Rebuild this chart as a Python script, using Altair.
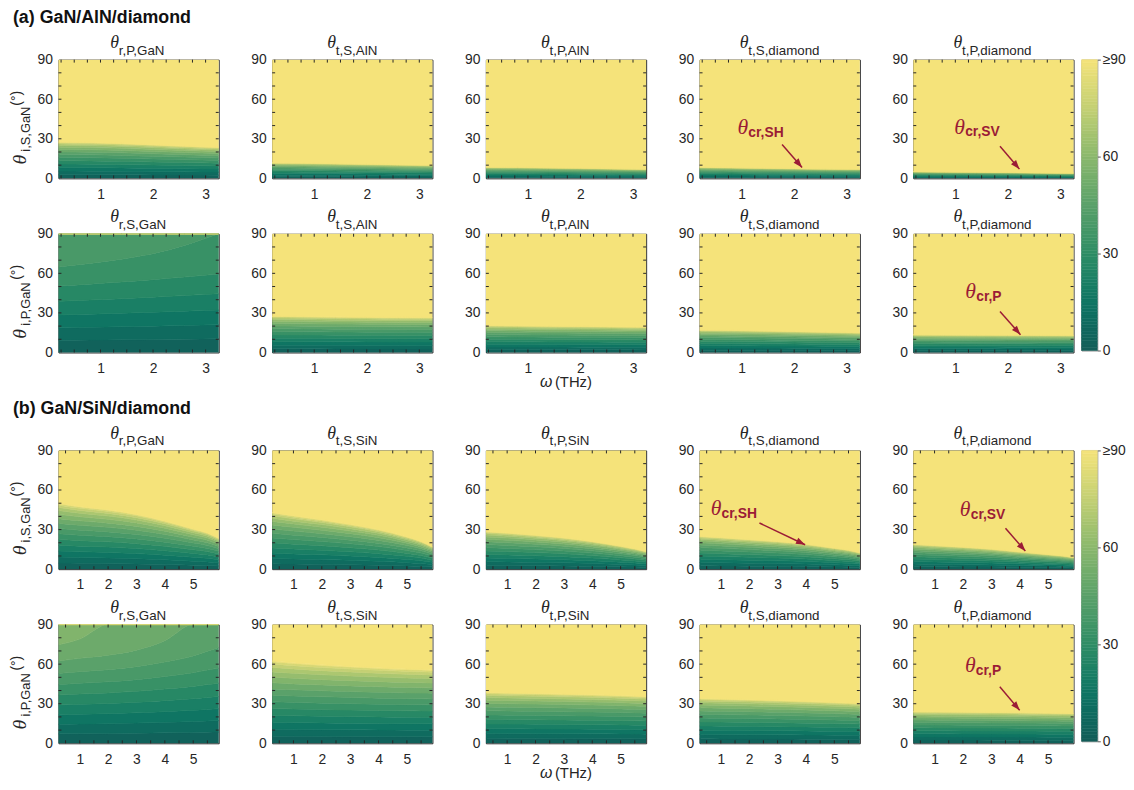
import math
import pandas as pd
import altair as alt

# ---------------- data ----------------
OMEGA_A = [0.2, 0.8, 1.4, 2.0, 2.6, 3.25]                 # THz, GaN/AlN/diamond
OMEGA_B = [0.25, 1.0, 2.0, 3.0, 4.0, 5.0, 5.5, 5.9]       # THz, GaN/SiN/diamond
XDOM_A = [0.2, 3.25]
XDOM_B = [0.25, 5.9]
XTICKS_A = [1, 2, 3]
XTICKS_B = [1, 2, 3, 4, 5]
XMINOR_A = [0.25, 0.5, 0.75, 1.0, 1.25, 1.5, 1.75, 2.0, 2.25, 2.5, 2.75, 3.0]
XMINOR_B = [0.5, 1.0, 1.5, 2.0, 2.5, 3.0, 3.5, 4.0, 4.5, 5.0, 5.5]
YTICKS = [0, 30, 60, 90]
YMINOR = [10, 20, 30, 40, 50, 60, 70, 80]
LEVELS = [0, 6, 12, 18, 24, 30, 36, 42, 48, 54, 60, 66, 72, 78, 84]   # contour levels (deg)

# critical incidence angle (deg): angle field below it, >=90 (yellow) above it
A_S_R_P_GAN = [27.5, 27.2, 26.5, 25.5, 24.5, 23.5]
A_S_T_S_ALN = [11.8, 11.6, 11.2, 10.8, 10.4, 10.0]
A_S_T_P_ALN = [8.5, 8.4, 8.1, 7.8, 7.4, 7.0]
A_S_T_S_DIA = [8.5, 8.2, 7.8, 7.5, 7.2, 7.0]
A_S_T_P_DIA = [5.2, 5.0, 4.8, 4.6, 4.3, 4.0]
# reflected-S angle reached at grazing incidence (deg)
A_P_R_S_GAN_MAX = [40.5, 39.5, 38.5, 37.5, 36.5, 35.5]
A_P_T_S_ALN = [27.5, 27.3, 27.0, 26.8, 26.6, 26.5]
A_P_T_P_ALN = [20.5, 20.3, 20.0, 19.8, 19.6, 19.3]
A_P_T_S_DIA = [17.0, 16.8, 16.4, 16.0, 15.5, 15.0]
A_P_T_P_DIA = [13.5, 13.4, 13.3, 13.2, 13.1, 13.0]

B_S_R_P_GAN = [50.0, 47.5, 45.0, 41.5, 36.5, 30.5, 27.5, 23.5]
B_S_T_S_SIN = [43.0, 40.5, 37.5, 34.0, 30.0, 24.5, 21.0, 17.0]
B_S_T_P_SIN = [28.5, 27.5, 25.8, 23.8, 21.0, 17.5, 15.5, 13.5]
B_S_T_S_DIA = [25.0, 24.0, 22.5, 21.0, 19.0, 16.0, 14.5, 12.5]
B_S_T_P_DIA = [19.0, 18.0, 16.8, 15.3, 13.2, 11.2, 10.2, 9.0]
B_P_R_S_GAN_MAX = [57.0, 55.5, 54.0, 52.0, 49.5, 47.0, 45.5, 44.5]
B_P_T_S_SIN = [62.5, 61.0, 59.5, 58.3, 57.2, 56.3, 56.0, 55.7]
B_P_T_P_SIN = [38.5, 38.2, 37.8, 37.3, 36.8, 36.2, 35.8, 35.5]
B_P_T_S_DIA = [34.0, 33.6, 33.1, 32.5, 31.8, 31.0, 30.6, 30.2]
B_P_T_P_DIA = [24.0, 23.9, 23.7, 23.5, 23.3, 23.0, 22.8, 22.6]

# annotations: subscript, text anchor (omega, deg), arrow start, arrow end
ANNOTATIONS = {
    ("a", 0, 3): ("cr,SH", (0.92, 33.5), (1.77, 25.7), (2.15, 8.3)),
    ("a", 0, 4): ("cr,SV", (0.98, 34.0), (1.85, 24.3), (2.22, 7.0)),
    ("a", 1, 4): ("cr,P", (1.19, 41.0), (1.85, 31.0), (2.24, 13.5)),
    ("b", 0, 3): ("cr,SH", (0.64, 41.0), (2.36, 35.0), (3.97, 18.5)),
    ("b", 0, 4): ("cr,SV", (1.89, 40.0), (3.50, 31.0), (4.20, 13.7)),
    ("b", 1, 4): ("cr,P", (2.07, 54.0), (3.30, 42.8), (4.00, 25.0)),
}

SECTIONS = [
    dict(key="a", title="(a) GaN/AlN/diamond", omega=OMEGA_A, xdom=XDOM_A, xticks=XTICKS_A,
         xminor=XMINOR_A,
         rows=[("i,S,GaN", [("r,P,GaN", "t", A_S_R_P_GAN), ("t,S,AlN", "t", A_S_T_S_ALN),
                            ("t,P,AlN", "t", A_S_T_P_ALN), ("t,S,diamond", "t", A_S_T_S_DIA),
                            ("t,P,diamond", "t", A_S_T_P_DIA)]),
               ("i,P,GaN", [("r,S,GaN", "r", A_P_R_S_GAN_MAX), ("t,S,AlN", "t", A_P_T_S_ALN),
                            ("t,P,AlN", "t", A_P_T_P_ALN), ("t,S,diamond", "t", A_P_T_S_DIA),
                            ("t,P,diamond", "t", A_P_T_P_DIA)])]),
    dict(key="b", title="(b) GaN/SiN/diamond", omega=OMEGA_B, xdom=XDOM_B, xticks=XTICKS_B,
         xminor=XMINOR_B,
         rows=[("i,S,GaN", [("r,P,GaN", "t", B_S_R_P_GAN), ("t,S,SiN", "t", B_S_T_S_SIN),
                            ("t,P,SiN", "t", B_S_T_P_SIN), ("t,S,diamond", "t", B_S_T_S_DIA),
                            ("t,P,diamond", "t", B_S_T_P_DIA)]),
               ("i,P,GaN", [("r,S,GaN", "r", B_P_R_S_GAN_MAX), ("t,S,SiN", "t", B_P_T_S_SIN),
                            ("t,P,SiN", "t", B_P_T_P_SIN), ("t,S,diamond", "t", B_P_T_S_DIA),
                            ("t,P,diamond", "t", B_P_T_P_DIA)])]),
]

COLOR_DOMAIN = [0, 15, 30, 45, 60, 75, 90]
COLOR_RANGE = ["#135d58", "#0f7563", "#2e8d65", "#5aa16a", "#8bb86d", "#c4d074", "#f5e37a"]

# ---------------- styling / layout ----------------
W, H = 162, 120
CBW, CBH = 16, 294
GAP_X = 22          # between panel bounds (plot gap 52 minus 30 px left guide)
GAP_Y = 0
SEC_GAP = 6
CB_GAP = 6
TOP1, BOT1 = -51, H + 26     # bounds of first row of a section
TOP2, BOT2 = -28, H + 40     # bounds of second row
LEFT_OTHER, LEFT_FIRST = -30, -52
SANS, SERIF = "Liberation Sans", "Liberation Serif"
TXT = "#262626"
RED = "#9b1c36"
CSCALE = alt.Scale(domain=COLOR_DOMAIN, range=COLOR_RANGE)
TITLE_THETA, TITLE_SUB = 18, 13.5
TICKLEN = 3

ARIAL = {'r': 333, ',': 278, 'P': 667, 'G': 778, 'a': 556, 'N': 722, 'S': 667, 'A': 667,
         'l': 222, 'i': 222, 't': 278, 'd': 556, 'm': 833, 'o': 556, 'n': 556, 'c': 500,
         'H': 722, 'V': 667, ' ': 278, '(': 333, ')': 333, '°': 400, 'T': 611, 'z': 500}


def tw(s, size):
    return sum(ARIAL.get(ch, 556) for ch in s) / 1000.0 * size


def d2r(d):
    return d * math.pi / 180.0


def bands(omega, vals, kind):
    rows = []
    for w, c in zip(omega, vals):
        if kind == "t":
            s = math.sin(d2r(c))
            edges = [math.degrees(math.asin(math.sin(d2r(L)) * s)) for L in LEVELS] + [c]
            for k, L in enumerate(LEVELS):
                rows.append(dict(w=w, lo=edges[k], hi=edges[k + 1], v=L + 3, band=k))
            rows.append(dict(w=w, lo=c, hi=90.0, v=90.0, band=len(LEVELS)))
        else:
            kk = math.sin(d2r(c))
            edges = [math.degrees(math.asin(min(1.0, math.sin(d2r(L)) / kk))) for L in LEVELS] + [90.0]
            for k, L in enumerate(LEVELS):
                rows.append(dict(w=w, lo=edges[k], hi=edges[k + 1], v=L + 3, band=k))
    return pd.DataFrame(rows).sort_values(["band", "w"])


def text(txt, x, y, size, font=SANS, style="normal", weight="normal", color=TXT, angle=None):
    kw = dict(align="left", baseline="alphabetic", font=font, fontSize=size,
              fontStyle=style, fontWeight=weight, color=color)
    if angle is not None:
        kw["angle"] = angle
    return alt.Chart(pd.DataFrame({"t": [txt]})).mark_text(**kw).encode(
        x=alt.value(x), y=alt.value(y), text="t:N")


def guide(x, y1, y2):
    # invisible vertical rule that fixes the layout bounds of a cell
    return alt.Chart(pd.DataFrame({"g": [0]})).mark_rule(opacity=0, strokeWidth=0.01).encode(
        x=alt.value(x), y=alt.value(y1), y2=alt.value(y2))


def panel(sec, ri, ci, ylab, sub, kind, vals):
    df = bands(sec["omega"], vals, kind)
    xs = alt.Scale(domain=sec["xdom"], nice=False, zero=False)
    ys = alt.Scale(domain=[0, 90], nice=False, zero=False)
    xax = alt.Axis(values=sec["xticks"], title=None, format="d", labelPadding=9)
    yax = alt.Axis(values=YTICKS, title=None, labelPadding=6)
    X = alt.X("w:Q", scale=xs, axis=xax)
    Y = alt.Y("lo:Q", scale=ys, axis=yax)
    base = alt.Chart(df).mark_area(interpolate="monotone", clip=True, strokeWidth=0.6).encode(
        x=X, y=Y, y2="hi:Q",
        color=alt.Color("v:Q", scale=CSCALE, legend=None),
        stroke=alt.Stroke("v:Q", scale=CSCALE, legend=None),
        detail="band:N",
    )
    layers = [base]
    # inward minor ticks on the frame (MATLAB style)
    xm = pd.DataFrame({"w": sec["xminor"]})
    ym = pd.DataFrame({"lo": YMINOR})
    tick = dict(color=TXT, strokeWidth=1)
    layers.append(alt.Chart(xm).mark_rule(**tick).encode(x=X, y=alt.value(0), y2=alt.value(TICKLEN)))
    layers.append(alt.Chart(xm).mark_rule(**tick).encode(x=X, y=alt.value(H - TICKLEN), y2=alt.value(H)))
    layers.append(alt.Chart(ym).mark_rule(**tick).encode(y=Y, x=alt.value(0), x2=alt.value(TICKLEN)))
    layers.append(alt.Chart(ym).mark_rule(**tick).encode(y=Y, x=alt.value(W - TICKLEN), x2=alt.value(W)))

    top, bot = (TOP1, BOT1) if ri == 0 else (TOP2, BOT2)
    layers.append(guide(LEFT_FIRST if ci == 0 else LEFT_OTHER, top, bot))
    # panel title  theta_{sub}
    tht = 8.6
    x0 = W / 2 - (tht + tw(sub, TITLE_SUB)) / 2
    layers.append(text("θ", x0, -12, TITLE_THETA, font=SERIF, style="italic"))
    layers.append(text(sub, x0 + tht, -5, TITLE_SUB))
    if ci == 0:
        y0 = 106
        ys0 = y0 - 13
        layers.append(text("θ", -33, y0, 20, font=SERIF, style="italic", angle=270))
        layers.append(text(ylab, -28.5, ys0, 13, angle=270))
        layers.append(text("(°)", -38, ys0 - tw(ylab, 13) - 1, 14, angle=270))
        if ri == 0:
            layers.append(text(sec["title"], -46, -37, 18, weight="bold", color="#111111"))
    if ri == 1 and ci == 2:
        tot = 11 + 4 + tw("(THz)", 15)
        xa = W / 2 - tot / 2
        layers.append(text("ω", xa, H + 35, 16, style="italic"))
        layers.append(text("(THz)", xa + 15, H + 35, 15))
    ann = ANNOTATIONS.get((sec["key"], ri, ci))
    if ann:
        s, (tw_, tt), (w1, t1), (w2, t2) = ann
        adf = pd.DataFrame({"w": [tw_], "lo": [tt], "s": [s]})
        layers.append(alt.Chart(adf).mark_text(align="left", baseline="alphabetic", font=SERIF,
                                               fontStyle="italic", fontSize=22, color=RED).encode(
            x=X, y=Y, text=alt.value("θ")))
        layers.append(alt.Chart(adf).mark_text(align="left", baseline="alphabetic", font=SANS,
                                               fontWeight="bold", fontSize=14, color=RED,
                                               dx=11, dy=3).encode(
            x=X, y=Y, text="s:N"))
        rdf = pd.DataFrame({"w": [w1], "lo": [t1], "w2": [w2], "hi": [t2]})
        layers.append(alt.Chart(rdf).mark_rule(color=RED, strokeWidth=1.5).encode(
            x=X, y=Y, x2="w2:Q", y2="hi:Q"))
        pxw = W / (sec["xdom"][1] - sec["xdom"][0])
        pxt = H / 90.0
        dx = (w2 - w1) * pxw
        dy = -(t2 - t1) * pxt
        ang = math.degrees(math.atan2(dx, -dy)) % 360
        hdf = pd.DataFrame({"w": [w2], "lo": [t2]})
        layers.append(alt.Chart(hdf).mark_point(shape="M0,0L-0.8,2.2L0.8,2.2Z", filled=True,
                                                size=70, angle=ang, color=RED, opacity=1,
                                                strokeWidth=0).encode(x=X, y=Y))
    return alt.layer(*layers).properties(width=W, height=H)


def colorbar():
    steps = list(range(0, 90))
    cdf = pd.DataFrame({"lo": steps, "hi": [s + 1 for s in steps], "v": [s + 0.5 for s in steps]})
    bar = alt.Chart(cdf).mark_rect(strokeWidth=0.5).encode(
        y=alt.Y("lo:Q", scale=alt.Scale(domain=[0, 90], nice=False, zero=False),
                axis=alt.Axis(orient="right", values=YTICKS, title=None, ticks=True, tickSize=3,
                              tickColor="#555555", labelPadding=2, labelBaseline="middle",
                              labelFontSize=14,
                              labelExpr="datum.value >= 90 ? '≥90' : datum.label")),
        y2="hi:Q",
        x=alt.value(0), x2=alt.value(CBW),
        color=alt.Color("v:Q", scale=CSCALE, legend=None),
        stroke=alt.Stroke("v:Q", scale=CSCALE, legend=None),
    )
    return alt.layer(bar, guide(0, TOP1, 0)).properties(
        width=CBW, height=CBH, view=alt.ViewBackground(stroke="#8c8c8c"))


def section(sec):
    rows = []
    for ri, (ylab, plist) in enumerate(sec["rows"]):
        ps = [panel(sec, ri, ci, ylab, sub, kind, vals) for ci, (sub, kind, vals) in enumerate(plist)]
        rows.append(alt.hconcat(*ps, spacing=GAP_X).resolve_scale(
            x="independent", y="independent"))
    grid = alt.vconcat(*rows, spacing=GAP_Y).resolve_scale(x="independent", y="independent")
    return alt.hconcat(grid, colorbar(), spacing=CB_GAP).resolve_scale(
        x="independent", y="independent")


chart = alt.vconcat(*[section(s) for s in SECTIONS], spacing=SEC_GAP).resolve_scale(
    x="independent", y="independent"
).properties(
    padding={"left": -2, "top": -4, "right": 0, "bottom": 0}, background="white"
).configure_view(
    stroke="#262626", strokeWidth=1
).configure_axis(
    labelFont=SANS, labelFontSize=14, labelColor=TXT, grid=False, domain=False, ticks=False
)

chart.save("out.html", embed_options={"renderer": "svg", "actions": False})
